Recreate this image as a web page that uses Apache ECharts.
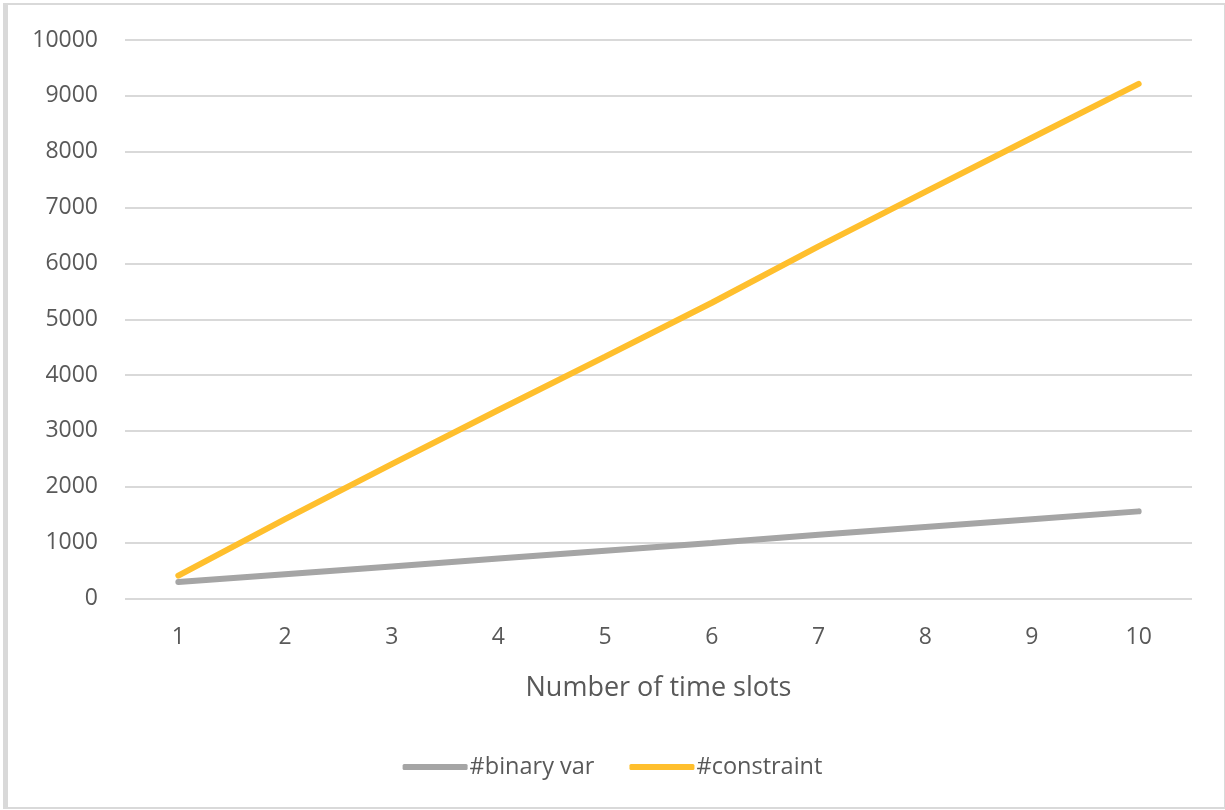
<!DOCTYPE html>
<html>
<head>
<meta charset="utf-8">
<script src="https://cdn.jsdelivr.net/npm/echarts@6/dist/echarts.min.js"></script>
<style>
  html, body { margin: 0; padding: 0; background: #fff; }
  #frame { position: absolute; left: 3px; top: 3px; width: 1216px; height: 802px; border: 2px solid #d9d9d9; border-left-width: 5px; box-sizing: content-box; }
  #chart { position: absolute; left: 0; top: 0; width: 1225px; height: 810px; }
</style>
</head>
<body>
<div id="frame"></div>
<div id="chart"></div>
<script>
const categories = ['1', '2', '3', '4', '5', '6', '7', '8', '9', '10'];
const binaryVar = [295, 435, 575, 715, 855, 995, 1140, 1280, 1420, 1560];
const constraint = [410, 1420, 2405, 3375, 4330, 5295, 6305, 7280, 8250, 9215];
const yTicks = { min: 0, max: 10000, interval: 1000 };

const FONT = '"Open Sans", "Liberation Sans", sans-serif';
const TEXT = '#595959';

const chart = echarts.init(document.getElementById('chart'), null, { renderer: 'canvas' });
chart.setOption({
  animation: false,
  backgroundColor: 'transparent',
  grid: { left: 125, right: 33, top: 40, bottom: 211.5 },
  xAxis: {
    type: 'category',
    data: categories,
    boundaryGap: true,
    axisLine: { show: false },
    axisTick: { show: false },
    axisLabel: { color: TEXT, fontFamily: FONT, fontSize: 23, margin: 27 },
    name: 'Number of time slots',
    nameLocation: 'middle',
    nameGap: 76,
    nameTextStyle: { color: TEXT, fontFamily: FONT, fontSize: 27 }
  },
  yAxis: {
    type: 'value',
    min: yTicks.min,
    max: yTicks.max,
    interval: yTicks.interval,
    axisLine: { show: false },
    axisTick: { show: false },
    axisLabel: { color: TEXT, fontFamily: FONT, fontSize: 23, margin: 27, formatter: v => String(v) },
    splitLine: { lineStyle: { color: '#d9d9d9', width: 2 } }
  },
  legend: {
    bottom: 26,
    left: 'center',
    icon: 'roundRect',
    itemWidth: 65,
    itemHeight: 6,
    itemGap: 35,
    textStyle: { color: TEXT, fontFamily: FONT, fontSize: 23.5, padding: [0, 0, 0, -3] },
    data: ['#binary var', '#constraint']
  },
  series: [
    {
      name: '#binary var',
      type: 'line',
      data: binaryVar,
      symbol: 'none',
      lineStyle: { color: '#a5a5a5', width: 6, cap: 'round' },
      itemStyle: { color: '#a5a5a5' }
    },
    {
      name: '#constraint',
      type: 'line',
      data: constraint,
      symbol: 'none',
      lineStyle: { color: '#ffbf2d', width: 6, cap: 'round' },
      itemStyle: { color: '#ffbf2d' }
    }
  ]
});
</script>
</body>
</html>
